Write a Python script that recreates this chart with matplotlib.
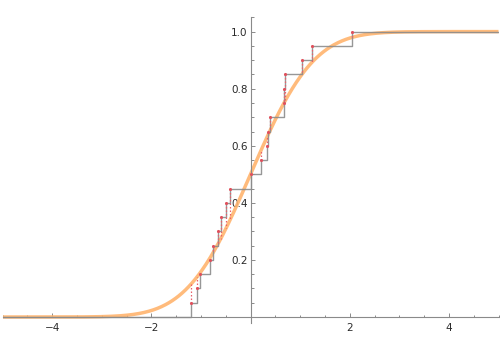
import math
import numpy as np
import matplotlib
matplotlib.use("Agg")
import matplotlib.pyplot as plt
from matplotlib.ticker import MultipleLocator, FixedLocator, FixedFormatter

# Sorted sample of 20 observations
sample = [-1.20, -1.085, -1.02, -0.82, -0.76, -0.66, -0.60, -0.49, -0.41, 0.00,
          0.21, 0.34, 0.36, 0.39, 0.67, 0.68, 0.69, 1.045, 1.23, 2.05]

# Reference distribution parameters (normal)
mu = 0.0
sigma = 1.0

x_range = [-5.0, 5.0]
y_ticks = [0.2, 0.4, 0.6, 0.8, 1.0]
y_tick_labels = ["0.2", "0.4", "0.6", "0.8", "1.0"]
x_ticks = [-4, -2, 2, 4]
x_tick_labels = ["\u22124", "\u22122", "2", "4"]


def normal_cdf(x):
    return 0.5 * (1.0 + math.erf((x - mu) / (sigma * math.sqrt(2.0))))


xs = np.sort(np.asarray(sample, dtype=float))
n = len(xs)
ecdf_vals = np.arange(1, n + 1) / n

fig = plt.figure(figsize=(5.0, 3.5), dpi=100)
ax = fig.add_axes([0.005, 0.0771, 0.992, 0.875])
ax.set_xlim(*x_range)
ax.set_ylim(-0.021, 1.052)

# Theoretical CDF
grid = np.linspace(x_range[0], x_range[1], 600)
ax.plot(grid, [normal_cdf(g) for g in grid], color="#ffb46e", lw=2.5,
        alpha=0.9, solid_capstyle="butt", zorder=2)

# Empirical CDF as a step function
step_x = np.concatenate([[x_range[0]], xs, [x_range[1]]])
step_y = np.concatenate([[0.0], ecdf_vals, [1.0]])
ax.step(step_x, step_y, where="post", color="#8c8c8c", lw=1.0, alpha=0.9,
        zorder=3)

# Deviations between empirical and theoretical CDF
for xi, yi in zip(xs, ecdf_vals):
    ax.plot([xi, xi], [yi, normal_cdf(xi)], color="#e8606a", lw=0.9,
            ls=(0, (1.2, 1.6)), zorder=4)
ax.scatter(xs, ecdf_vals, s=5, color="#e0505c", zorder=5, linewidths=0)

# Axes through the origin
for side in ("top", "right"):
    ax.spines[side].set_visible(False)
ax.spines["left"].set_position(("data", 0))
ax.spines["bottom"].set_position(("data", 0))
for side in ("left", "bottom"):
    ax.spines[side].set_color("#8a8a8a")
    ax.spines[side].set_linewidth(0.8)

ax.xaxis.set_major_locator(FixedLocator(x_ticks))
ax.xaxis.set_major_formatter(FixedFormatter(x_tick_labels))
ax.xaxis.set_minor_locator(MultipleLocator(0.5))
ax.yaxis.set_major_locator(FixedLocator(y_ticks))
ax.yaxis.set_major_formatter(FixedFormatter(y_tick_labels))
ax.yaxis.set_minor_locator(MultipleLocator(0.05))

ax.tick_params(which="both", direction="in", color="#8a8a8a", width=0.7,
               labelsize=7.5, labelcolor="#2a2a2a")
ax.tick_params(which="major", length=3.0)
ax.tick_params(which="minor", length=1.8)
ax.tick_params(axis="x", which="major", pad=4)
ax.tick_params(axis="y", which="major", pad=2)

fig.savefig("out.png", dpi=100)
